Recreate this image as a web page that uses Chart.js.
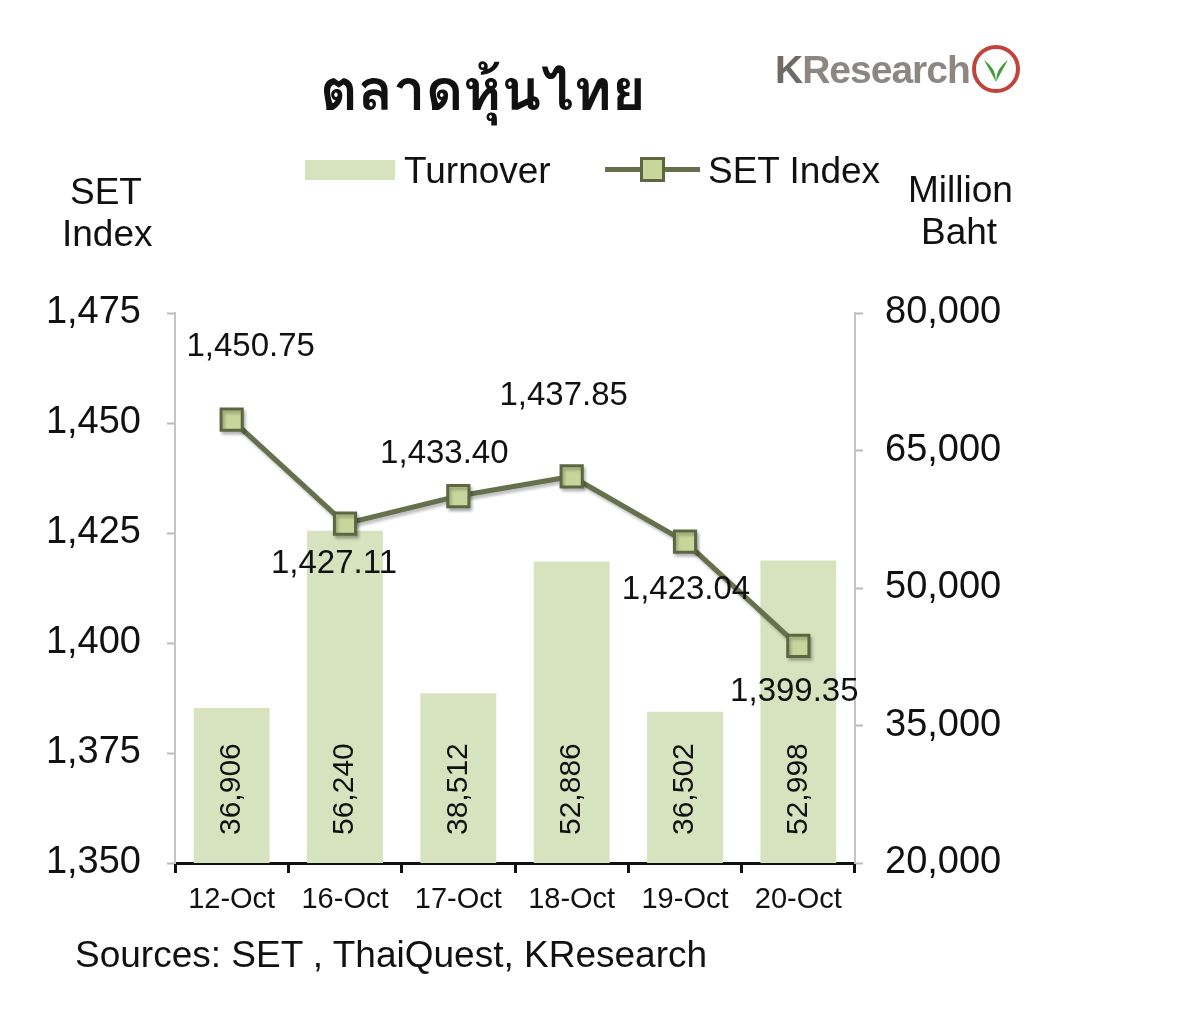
<!DOCTYPE html>
<html>
<head>
  <title>ตลาดหุ้นไทย</title>
  <script src="https://cdn.jsdelivr.net/npm/chart.js"></script>
  <style>
    body { margin: 0; background: #fff; font-family: "Liberation Sans", Arial, sans-serif; color: #111; }
    #wrap { position: relative; width: 1200px; height: 1014px; }
    #chart { position: absolute; left: 0; top: 0; }
    .txt { position: absolute; font-size: 37px; line-height: 1; white-space: nowrap; }
    .title { position: absolute; left: 320px; top: 58px; font-size: 58px; font-weight: bold; line-height: 1.1;
             font-family: "Loma", "Garuda", "Norasi", "Noto Sans Thai", "Noto Sans", sans-serif; }
    .logo { position: absolute; left: 775px; top: 48px; font-size: 39px; font-weight: bold; color: #8c8782; letter-spacing: -1px; }
  </style>
</head>
<body>
<div id="wrap">
  <canvas id="chart" width="1200" height="1014"></canvas>
  <div class="title">ตลาดหุ้นไทย</div>
  <div class="logo"><span style="color:#6f6a66">K</span>Research</div>
  <svg style="position:absolute;left:970px;top:44px" width="52" height="50">
    <ellipse cx="26" cy="25" rx="22" ry="22" fill="#fff" stroke="#c0443c" stroke-width="4"/>
    <path d="M14 16 Q26 24 26 38 Q26 24 38 16 Q30 30 26 38 Q22 30 14 16 Z" fill="#3f9a3a"/>
  </svg>

  <!-- legend -->
  <div style="position:absolute;left:305px;top:160px;width:90px;height:20px;background:#d7e3bf"></div>
  <div class="txt" style="left:404px;top:152px">Turnover</div>
  <div style="position:absolute;left:605px;top:167px;width:95px;height:5px;background:#66704c"></div>
  <div style="position:absolute;left:640px;top:157px;width:19px;height:19px;background:#c8d69c;border:3px solid #5c6640"></div>
  <div class="txt" style="left:708px;top:152px">SET Index</div>

  <!-- axis titles -->
  <div class="txt" style="left:70px;top:173px">SET</div>
  <div class="txt" style="left:62px;top:215px">Index</div>
  <div class="txt" style="left:908px;top:171px">Million</div>
  <div class="txt" style="left:921px;top:213px">Baht</div>

  <div class="txt" style="left:75px;top:936px">Sources: SET , ThaiQuest, KResearch</div>
</div>

<script>
  const dates = ['12-Oct', '16-Oct', '17-Oct', '18-Oct', '19-Oct', '20-Oct'];
  const turnover = [36906, 56240, 38512, 52886, 36502, 52998];
  const setIndex = [1450.75, 1427.11, 1433.40, 1437.85, 1423.04, 1399.35];

  const fmt = v => v.toLocaleString('en-US');
  const fmt2 = v => v.toLocaleString('en-US', { minimumFractionDigits: 2, maximumFractionDigits: 2 });

  // where each SET label sits relative to its point
  const labelShift = [[19, -73], [-11, 40], [-14, -42], [-8, -81], [1, 48], [-4, 46]];

  const labelPlugin = {
    id: 'labels',
    afterDatasetsDraw(chart) {
      const ctx = chart.ctx;
      const bottom = chart.chartArea.bottom;
      ctx.save();
      ctx.fillStyle = '#111';
      // turnover values, rotated inside bars
      ctx.font = '30px "Liberation Sans", Arial, sans-serif';
      chart.getDatasetMeta(0).data.forEach((bar, i) => {
        ctx.save();
        ctx.translate(bar.x, bottom - 28);
        ctx.rotate(-Math.PI / 2);
        ctx.textAlign = 'left';
        ctx.textBaseline = 'middle';
        ctx.fillText(fmt(turnover[i]), 0, 0);
        ctx.restore();
      });
      // SET index values
      ctx.font = '33px "Liberation Sans", Arial, sans-serif';
      ctx.textAlign = 'center';
      ctx.textBaseline = 'middle';
      chart.getDatasetMeta(1).data.forEach((pt, i) => {
        ctx.fillText(fmt2(setIndex[i]), pt.x + labelShift[i][0], pt.y + labelShift[i][1]);
      });
      ctx.restore();
    }
  };

  const shadowPlugin = {
    id: 'lineShadow',
    beforeDatasetDraw(chart, args) {
      if (args.index === 1) {
        chart.ctx.save();
        chart.ctx.shadowColor = 'rgba(0,0,0,0.25)';
        chart.ctx.shadowOffsetX = 2;
        chart.ctx.shadowOffsetY = 3;
        chart.ctx.shadowBlur = 3;
      }
    },
    afterDatasetDraw(chart, args) {
      if (args.index === 1) chart.ctx.restore();
    }
  };

  const tickFont = { size: 38, family: '"Liberation Sans", Arial, sans-serif' };

  new Chart(document.getElementById('chart'), {
    data: {
      labels: dates,
      datasets: [
        {
          type: 'bar',
          label: 'Turnover',
          data: turnover,
          yAxisID: 'y2',
          backgroundColor: '#d7e3bf',
          categoryPercentage: 1,
          barPercentage: 0.67,
          order: 2
        },
        {
          type: 'line',
          label: 'SET Index',
          data: setIndex,
          yAxisID: 'y',
          borderColor: '#66704c',
          borderWidth: 5,
          pointStyle: 'rect',
          pointRadius: 15,
          pointBackgroundColor: '#c8d69c',
          pointBorderColor: '#5c6640',
          pointBorderWidth: 3,
          tension: 0,
          order: 1
        }
      ]
    },
    options: {
      responsive: false,
      animation: false,
      layout: { padding: { left: 40, top: 313, right: 0, bottom: 0 } },
      plugins: { legend: { display: false }, tooltip: { enabled: false } },
      scales: {
        x: {
          offset: true,
          grid: { offset: true, drawOnChartArea: false, drawTicks: true, tickLength: 10, tickColor: '#111', tickWidth: 3 },
          border: { color: '#111', width: 3 },
          ticks: { color: '#111', padding: 10, font: { size: 29, family: '"Liberation Sans", Arial, sans-serif' } },
          afterFit: s => { s.height = 151; }
        },
        y: {
          position: 'left',
          min: 1350,
          max: 1475,
          ticks: { stepSize: 25, color: '#111', padding: 26, font: tickFont, callback: v => fmt(v) },
          grid: { drawOnChartArea: false, tickLength: 8, tickColor: '#bbb', tickWidth: 2 },
          border: { color: '#c4c4c4', width: 2 },
          afterFit: s => { s.width = 135; }
        },
        y2: {
          position: 'right',
          min: 20000,
          max: 80000,
          ticks: { stepSize: 15000, color: '#111', padding: 22, font: tickFont, callback: v => fmt(v) },
          grid: { drawOnChartArea: false, tickLength: 8, tickColor: '#bbb', tickWidth: 2 },
          border: { color: '#c4c4c4', width: 2 },
          afterFit: s => { s.width = 345; }
        }
      }
    },
    plugins: [labelPlugin, shadowPlugin]
  });
</script>
</body>
</html>
